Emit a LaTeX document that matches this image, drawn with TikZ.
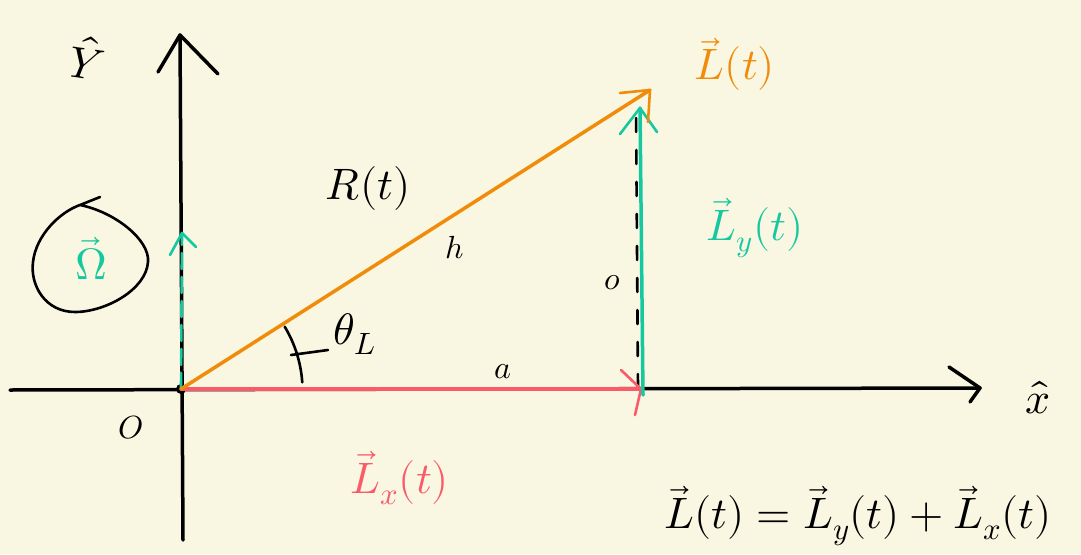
\documentclass[tikz,border=0pt]{standalone}
\usepackage{unicode-math}
\definecolor{bg}{RGB}{249,247,226}
\definecolor{lorange}{RGB}{240,140,10}
\definecolor{lteal}{RGB}{22,200,160}
\definecolor{lred}{RGB}{250,90,105}
\begin{document}
\begin{tikzpicture}[x=1pt,y=-1pt,
  pen/.style={line width=3.5pt,line cap=round,line join=round},
  thinpen/.style={line width=2.6pt,line cap=round,line join=round},
  lbl/.style={font=\fontsize{44}{48}\selectfont, inner sep=0pt},
  small/.style={font=\fontsize{32}{36}\selectfont, inner sep=0pt}]
\fill[bg] (0,0) rectangle (1081,554);
\useasboundingbox (0,0) rectangle (1081,554);
% key points
\coordinate (O) at (181,389);
\coordinate (ytop) at (180,35);
\coordinate (ybot) at (183,540);
\coordinate (xl) at (10,390);
\coordinate (xtip) at (980,388);
\coordinate (Ltip) at (650,90);
\coordinate (P) at (643,395);
\coordinate (Lytip) at (640,108);
\coordinate (Lxtip) at (641,389);
\coordinate (D1) at (636,110);
\coordinate (D2) at (638,388);
\coordinate (Wtip) at (182,233);
% axes
\draw[pen] (ybot) -- (ytop);
\draw[pen] (ytop) ++(-22,37) -- (ytop) -- ++(38,39);
\draw[pen] (xl) -- (xtip);
\draw[pen] (xtip) ++(-31,-21) -- (xtip) -- ++(-10,14);
\fill (O) circle (5);
% dashed black vertical
\draw[thinpen, dash pattern=on 14pt off 18pt] (D2) -- (D1);
% Omega vector along y axis (dashed teal)
\draw[thinpen, lteal, dash pattern=on 16pt off 8pt] (O) -- (Wtip);
\draw[thinpen, lteal] (Wtip) ++(-12,22) -- (Wtip) -- ++(14,14);
% L_x (red)
\draw[pen, lred] (O) -- (Lxtip);
\draw[thinpen, lred] (Lxtip) ++(-20,-19) -- (Lxtip) -- ++(-6,26);
% L_y (teal)
\draw[pen, lteal] (P) -- (Lytip);
\draw[thinpen, lteal] (Lytip) ++(-20,26) -- (Lytip) -- ++(17,24);
% L (orange)
\draw[pen, lorange] (O) -- (Ltip);
\draw[thinpen, lorange] (Ltip) ++(-30,3) -- (Ltip) -- ++(-2,32);
% angle arc
\draw[thinpen] (O) ++(-31:121) arc[start angle=-31, end angle=-4, radius=125];
\coordinate (tk) at (310,352);
\draw[thinpen] (tk) ++(-19,3) -- ++(37,-5);
% Omega loop
\draw[thinpen] (100,197) -- (80,205)
  .. controls (115,212) and (150,240) .. (148,262)
  .. controls (146,290) and (105,312) .. (75,312)
  .. controls (45,312) and (30,285) .. (33,262)
  .. controls (36,235) and (60,212) .. (80,205);
% labels
\node[lbl, rotate=-8] (yhat) at (88,58) {$\hat{Y}$};
\node[lbl] (xhat) at (1038,398) {$\hat{x}$};
\node[lbl, lorange] (Llab) at (735,64) {$\vec{L}(t)$};
\node[lbl] (Rlab) at (368,188) {$R(t)$};
\node[small] (hlab) at (455,248) {$h$};
\node[lbl, lteal] (Lylab) at (755,228) {$\vec{L}_{y}(t)$};
\node[small] (olab) at (612,283) {$o$};
\node[lbl] (thlab) at (355,334) {$\theta_{L}$};
\node[small] (alab) at (503,372) {$a$};
\node[small] (Olab) at (131,428) {$O$};
\node[lbl, lred] (Lxlab) at (400,478) {$\vec{L}_{x}(t)$};
\node[lbl, lteal] (Wlab) at (91,258) {$\vec{\Omega}$};
\node[lbl] (eq) at (858,516) {$\vec{L}(t)=\vec{L}_{y}(t)+\vec{L}_{x}(t)$};
\end{tikzpicture}
\end{document}
